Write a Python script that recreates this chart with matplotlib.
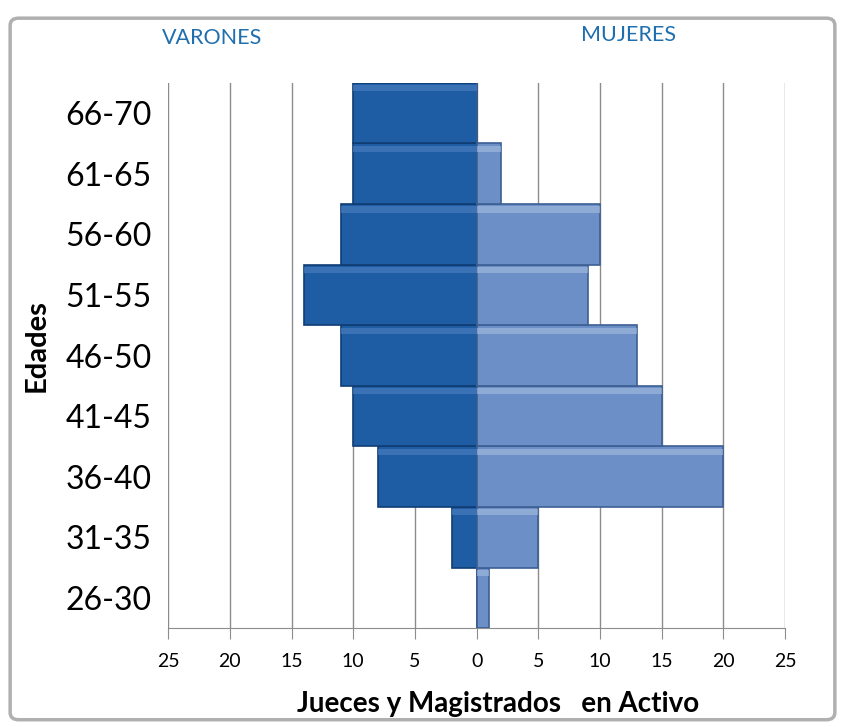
import numpy as np
import matplotlib.pyplot as plt
from matplotlib.patches import FancyBboxPatch

plt.rcParams['font.family'] = ['Lato', 'DejaVu Sans']

edades = ['26-30', '31-35', '36-40', '41-45', '46-50', '51-55', '56-60', '61-65', '66-70']
varones = [0, 2, 8, 10, 11, 14, 11, 10, 10]
mujeres = [1, 5, 20, 15, 13, 9, 10, 2, 0]
ticks = [-25, -20, -15, -10, -5, 0, 5, 10, 15, 20, 25]

fig = plt.figure(figsize=(8.45, 7.27), dpi=100)
# marco gris del grafico
frame = FancyBboxPatch((0.012, 0.01), 0.976, 0.965, boxstyle='round,pad=0,rounding_size=0.01',
                       transform=fig.transFigure, facecolor='white', edgecolor='#b0b0b0', lw=2.5, zorder=-1)
fig.patches.append(frame)

ax = fig.add_axes([0.199, 0.136, 0.73, 0.75])
ax.set_facecolor('none')
y = np.arange(len(edades))
v = -np.array(varones)
m = np.array(mujeres)
ax.barh(y, v, height=1.0, color='#1e5ca3', edgecolor='#0f3d73', lw=1.2, zorder=3)
ax.barh(y, m, height=1.0, color='#6b8fc6', edgecolor='#3d5f93', lw=1.2, zorder=3)
# brillo superior (efecto bisel)
ax.barh(y + 0.41, v, height=0.1, color='#4f82c2', lw=0, alpha=0.6, zorder=4)
ax.barh(y + 0.41, m, height=0.1, color='#a7bfe2', lw=0, alpha=0.6, zorder=4)

ax.set_xlim(-25, 25)
ax.set_ylim(-0.5, len(edades) - 0.5)
ax.set_xticks(ticks)
ax.set_xticklabels([str(abs(t)) for t in ticks], fontsize=14)
ax.set_yticks(y)
ax.set_yticklabels(edades, fontsize=23)
ax.tick_params(axis='y', length=0, pad=12)
ax.tick_params(axis='x', length=8, color='#8c8c8c', pad=10)
ax.grid(axis='x', color='#8c8c8c', lw=1, zorder=0)
for s in ['top', 'left', 'right']:
    ax.spines[s].set_visible(False)
ax.spines['bottom'].set_color('#8c8c8c')

ax.set_xlabel('Jueces y Magistrados   en Activo', fontsize=20, fontweight='bold', labelpad=14)
ax.xaxis.set_label_coords(0.535, -0.115)
fig.text(0.043, 0.525, 'Edades', rotation=90, fontsize=21, fontweight='bold', ha='center', va='center')
fig.text(0.251, 0.948, 'VARONES', color='#1f6fae', fontsize=15.5, ha='center', va='center')
fig.text(0.744, 0.952, 'MUJERES', color='#1f6fae', fontsize=15.5, ha='center', va='center')

plt.savefig('out.png', dpi=100)
